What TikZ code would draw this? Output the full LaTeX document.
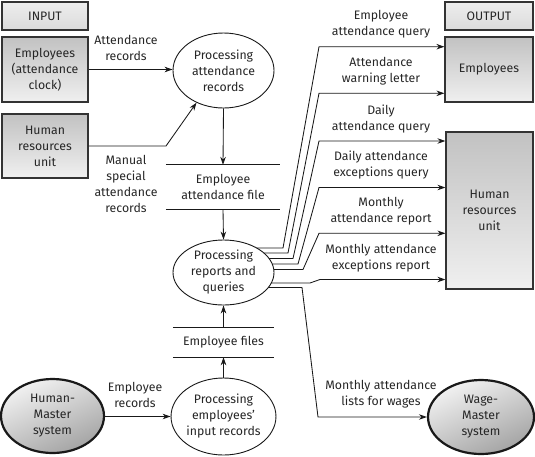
\documentclass[tikz,border=0pt]{standalone}
\usepackage{fontspec}
\setmainfont{Fira Sans}
\usetikzlibrary{shapes.geometric,arrows.meta,backgrounds}
\begin{document}
\begin{tikzpicture}[x=1pt,y=-1pt,
  every node/.style={font=\fontsize{12.3}{16}\selectfont, text=black!85},
  graybox/.style={draw=black!80, line width=1.2pt, inner sep=0pt, align=center, top color=black!24, bottom color=black!6},
  hdrbox/.style={draw=black!80, line width=1.2pt, inner sep=0pt, top color=black!7, bottom color=black!14, minimum width=86pt, minimum height=28pt},
  proc/.style={ellipse, draw=black!90, line width=0.9pt, fill=white, inner sep=0pt, align=center, minimum width=101pt},
  ext/.style={ellipse, draw=black!90, line width=2.2pt, inner sep=0pt, align=center, top color=black!5, bottom color=black!36, shading angle=25},
  store/.style={inner sep=0pt, align=center},
  lbl/.style={align=center, inner sep=0pt},
  conn/.style={draw=black!90, line width=0.85pt},
  flow/.style={conn, -{Stealth[length=8pt,width=5.5pt]}}
]
\useasboundingbox (0,0) rectangle (535,456);

% input side
\node[hdrbox] (inlbl) at (45,16) {INPUT};
\node[graybox, minimum width=86pt, minimum height=65pt] (inemp) at (45,69.5) {Employees\\(attendance\\clock)};
\node[graybox, minimum width=86pt, minimum height=64pt] (inhr) at (45,146) {Human\\resources\\unit};
\node[ext, minimum width=103pt, minimum height=74pt] (hm) at (52.5,416) {Human-\\Master\\system};

% output side
\node[hdrbox, minimum width=88pt] (outlbl) at (489,16) {OUTPUT};
\node[graybox, minimum width=88pt, minimum height=65pt] (outemp) at (489,69.5) {Employees};
\node[graybox, minimum width=87pt, minimum height=157pt] (outhr) at (489.5,210.5) {Human\\resources\\unit};
\node[ext, minimum width=106pt, minimum height=74pt] (wm) at (481,417) {Wage-\\Master\\system};

% processes and stores
\node[proc, minimum height=75pt] (par) at (223.5,70.5) {Processing\\attendance\\records};
\node[store, minimum width=114pt, minimum height=44pt] (st1) at (223,187) {Employee\\attendance file};
\draw[conn] (st1.north west) -- (st1.north east);
\draw[conn] (st1.south west) -- (st1.south east);
\node[proc, minimum height=65pt] (prq) at (223.5,272.5) {Processing\\reports and\\queries};
\node[store, minimum width=101pt, minimum height=29pt] (st2) at (223.5,342.5) {Employee files};
\draw[conn] (st2.north west) -- (st2.north east);
\draw[conn] (st2.south west) -- (st2.south east);
\node[proc, minimum height=77pt] (peir) at (223.5,416.5) {Processing\\employees'\\input records};

% input flows
\draw[flow] (inemp.east) -- (inemp.east -| par.west);
\coordinate (b1) at (166,146);
\draw[flow] (inhr.east) -- (b1) -- (par.230);
\draw[flow] (par.south) -- (st1.north);
\draw[flow] (st1.south) -- (prq.north);
\draw[flow] (st2.north) -- (prq.south);
\draw[flow] (peir.north) -- (st2.south);
\draw[flow] (hm.east |- peir.west) -- (peir.west);

% fan-out flows (start inside the white ellipse, hidden behind it)
\coordinate (a1) at (283,248); \coordinate (c1) at (319,46.7);
\coordinate (a2) at (288,253); \coordinate (c2) at (319,93.3);
\coordinate (a3) at (293,258.5); \coordinate (c3) at (319,141);
\coordinate (a4) at (298,264); \coordinate (c4) at (319,187.5);
\coordinate (a5) at (303,269.5); \coordinate (c5) at (319,233.3);
\coordinate (a6) at (310,283); \coordinate (c6) at (320,279.5);
\coordinate (a7) at (302,287.5); \coordinate (c7) at (318,417);
\begin{pgfonlayer}{background}
\draw[flow] (prq.center |- a1) -- (a1) -- (c1) -- (outemp.west |- c1);
\draw[flow] (prq.center |- a2) -- (a2) -- (c2) -- (outemp.west |- c2);
\draw[flow] (prq.center |- a3) -- (a3) -- (c3) -- (outhr.west |- c3);
\draw[flow] (prq.center |- a4) -- (a4) -- (c4) -- (outhr.west |- c4);
\draw[flow] (prq.center |- a5) -- (a5) -- (c5) -- (outhr.west |- c5);
\draw[flow] (prq.center |- a6) -- (a6) -- (c6) -- (outhr.west |- c6);
\draw[flow] (prq.center |- a7) -- (a7) -- (c7) -- (wm.west |- c7);
\end{pgfonlayer}

% labels
\node[lbl] (l1) at (126,47.5) {Attendance\\records};
\node[lbl] (l2) at (126,184) {Manual\\special\\attendance\\records};
\node[lbl] (l3) at (135,394.5) {Employee\\records};
\node[lbl] (l4) at (381,24) {Employee\\attendance query};
\node[lbl] (l5) at (381,71) {Attendance\\warning letter};
\node[lbl] (l6) at (381,119.5) {Daily\\attendance query};
\node[lbl] (l7) at (381,165) {Daily attendance\\exceptions query};
\node[lbl] (l8) at (381,211) {Monthly\\attendance report};
\node[lbl] (l9) at (381,258) {Monthly attendance\\exceptions report};
\node[lbl] (l10) at (381,394.5) {Monthly attendance\\lists for wages};
\end{tikzpicture}
\end{document}
